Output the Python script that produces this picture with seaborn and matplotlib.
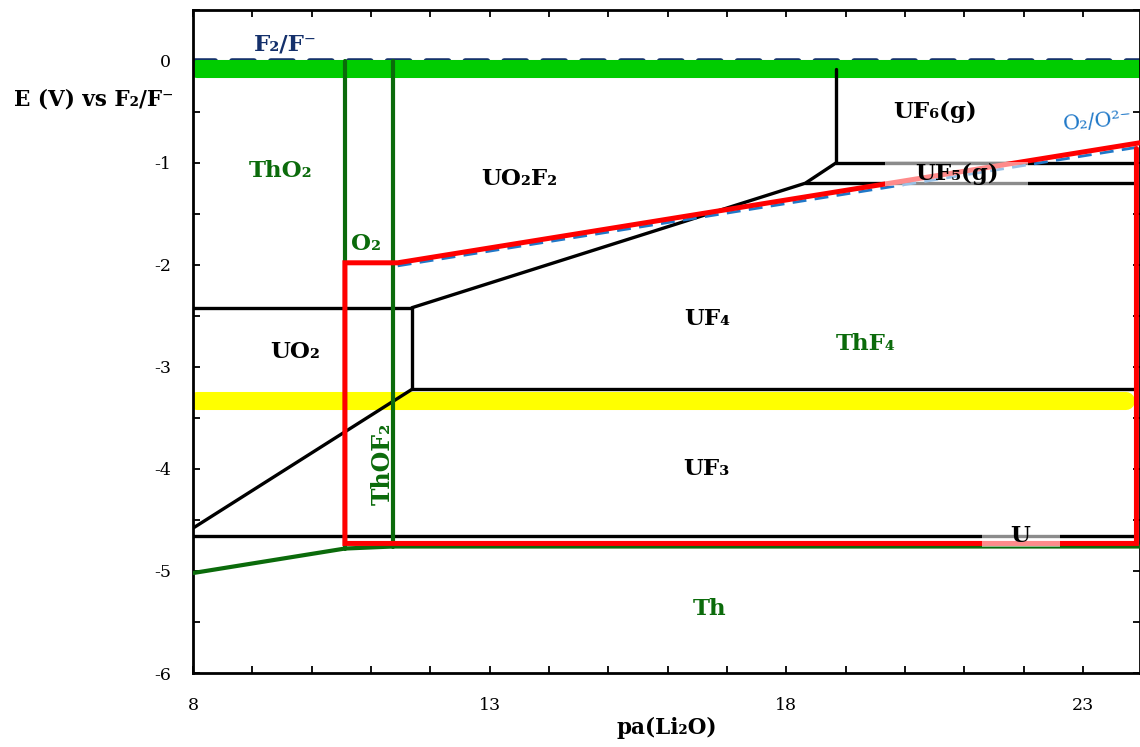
import matplotlib
matplotlib.use("Agg")
import matplotlib.pyplot as plt
from matplotlib.ticker import MultipleLocator
import seaborn as sns
import pandas as pd

# boundaries, (x = pa(Li2O), y = E vs F2/F-)
black_lines = {
    "UO2_UO2F2": ([8.0, 11.69], [-2.42, -2.42]),
    "UO2_UF4": ([11.69, 11.69], [-2.42, -3.22]),
    "UF4_UF3": ([11.69, 23.9], [-3.22, -3.22]),
    "UO2F2_UF4": ([11.69, 18.32, 18.84], [-2.42, -1.20, -1.00]),
    "UO2F2_UF6": ([18.84, 18.84], [-0.08, -1.00]),
    "UF6_UF5": ([18.84, 23.9], [-1.00, -1.00]),
    "UF5_UF4": ([18.32, 23.9], [-1.20, -1.20]),
    "UO2_UF3": ([8.0, 11.69], [-4.58, -3.22]),
    "UF3_U": ([8.0, 23.9], [-4.66, -4.66]),
}
dkgreen_lines = {
    "ThO2_ThOF2": ([10.56, 10.56], [0.0, -4.78]),
    "ThOF2_ThF4": ([11.37, 11.37], [0.0, -4.76]),
    "Th": ([8.0, 10.56, 11.37, 24.0], [-5.02, -4.78, -4.76, -4.76]),
}
red_x = [23.9, 23.9, 10.56, 10.56, 11.45, 24.0]
red_y = [-0.86, -4.73, -4.73, -1.98, -1.98, -0.80]
o2_x = [11.45, 24.0]
o2_y = [-2.01, -0.84]
f2_x = [8.0, 24.0]
f2_y = [0.0, 0.0]
green_band_x = [8.07, 24.0]
green_band_y = [-0.08, -0.08]
yellow_band_x = [8.07, 23.72]
yellow_band_y = [-3.33, -3.33]

# translucent label patches (x0, x1, y0, y1)
shade_uf5 = (19.66, 22.07, -1.23, -0.99)
shade_u = (21.30, 22.61, -4.76, -4.64)

labels = [
    ("ThO₂", 9.47, -1.08, "#0b6b0b"),
    ("O₂", 10.92, -1.80, "#0b6b0b"),
    ("UO₂F₂", 13.5, -1.16, "black"),
    ("UF₆(g)", 20.5, -0.50, "black"),
    ("UF₅(g)", 20.88, -1.11, "black"),
    ("UF₄", 16.66, -2.53, "black"),
    ("ThF₄", 19.34, -2.78, "#0b6b0b"),
    ("UO₂", 9.72, -2.85, "black"),
    ("UF₃", 16.66, -4.00, "black"),
    ("U", 21.94, -4.66, "black"),
    ("Th", 16.71, -5.37, "#0b6b0b"),
]


def to_frame(d):
    rows = []
    for name, (xs, ys) in d.items():
        for x, y in zip(xs, ys):
            rows.append({"seg": name, "x": x, "y": y})
    return pd.DataFrame(rows)


sns.set_theme(style="ticks")
plt.rcParams["font.family"] = ["DejaVu Serif", "DejaVu Sans"]
plt.rcParams["axes.unicode_minus"] = False
plt.rcParams["text.color"] = "black"
plt.rcParams["axes.labelcolor"] = "black"

fig = plt.figure(figsize=(11.4, 7.47), dpi=100)
ax = fig.add_axes([193 / 1140, 0.099, 947 / 1140, 0.888])

ax.plot(green_band_x, green_band_y, color="#00cc00", lw=13, solid_capstyle="round", zorder=2)
ax.plot(yellow_band_x, yellow_band_y, color="#ffff00", lw=13, solid_capstyle="round", zorder=2)
ax.plot(f2_x, f2_y, color="#14306b", lw=4, dashes=(4, 3), dash_capstyle="round", zorder=1)

sns.lineplot(data=to_frame(black_lines), x="x", y="y", units="seg", estimator=None,
             sort=False, color="black", lw=2.4, ax=ax, zorder=3)
sns.lineplot(data=to_frame(dkgreen_lines), x="x", y="y", units="seg", estimator=None,
             sort=False, color="#0b6b0b", lw=3, ax=ax, zorder=3)
ax.plot(o2_x, o2_y, color="#1f78c8", lw=2, dashes=(5, 3), zorder=3)
ax.plot(red_x, red_y, color="#ff0000", lw=3.6, zorder=4, solid_joinstyle="miter")

for x0, x1, y0, y1 in (shade_uf5, shade_u):
    ax.fill_between([x0, x1], y0, y1, color="white", alpha=0.55, lw=0, zorder=5)

for txt, x, y, c in labels:
    ax.text(x, y, txt, color=c, fontsize=16.5, fontweight="bold", ha="center",
            va="center", zorder=6)

ax.text(9.55, 0.16, "F₂/F⁻", color="#14306b", fontsize=16.5, fontweight="bold",
        ha="center", va="center", zorder=6)
ax.text(23.25, -0.60, "O₂/O²⁻", color="#1f78c8", fontsize=15, ha="center",
        va="center", rotation=5, zorder=6)
ax.text(11.2, -3.95, "ThOF₂", color="#0b6b0b", fontsize=17, fontweight="bold",
        ha="center", va="center", rotation=90, zorder=6)

ax.set_xlim(8, 23.96)
ax.set_ylim(-6, 0.5)
ax.set_xticks([8, 13, 18, 23])
ax.xaxis.set_minor_locator(MultipleLocator(1))
ax.set_yticks([-6, -5, -4, -3, -2, -1, 0])
ax.yaxis.set_minor_locator(MultipleLocator(0.5))
ax.tick_params(which="both", direction="in", top=True, right=True, labelsize=12.5,
               width=1.3, length=5, colors="black")
ax.tick_params(axis="x", pad=17)
ax.tick_params(axis="y", pad=16)
for s in ax.spines.values():
    s.set_linewidth(2)
    s.set_color("black")

ax.set_xlabel("pa(Li₂O)", fontsize=15.5, fontweight="bold", labelpad=2)
ax.set_ylabel("E (V) vs F₂/F⁻", fontsize=15.5, fontweight="bold", rotation=0,
              ha="center", va="center")
ax.yaxis.set_label_coords(-0.105, 0.864)

fig.savefig("out.png", dpi=100)
